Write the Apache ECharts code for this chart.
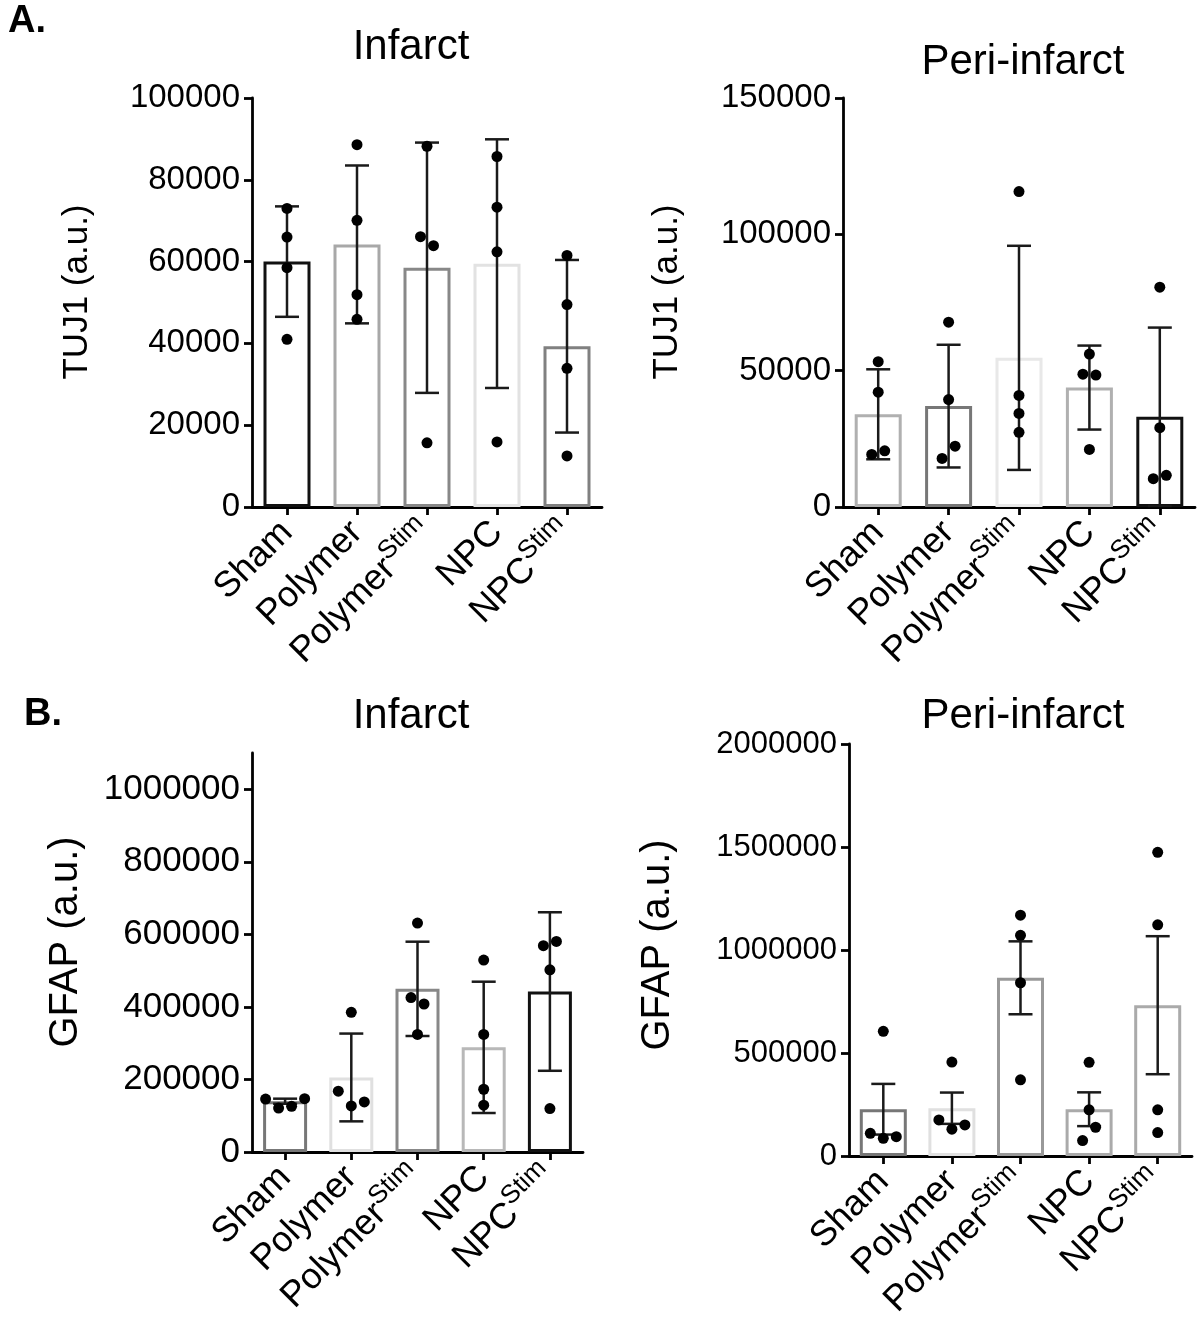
<!DOCTYPE html>
<html>
<head>
<meta charset="utf-8">
<script src="https://cdn.jsdelivr.net/npm/echarts@6/dist/echarts.min.js"></script>
<style>
  html, body { margin: 0; background: #fff; }
  #main { width: 1199px; height: 1332px; }
</style>
</head>
<body>
<div id="main"></div>
<script>
var FONT = '"Liberation Sans", Arial, sans-serif';
var groups = ['Sham', 'Polymer', 'PolymerStim', 'NPC', 'NPCStim'];

// A. TUJ1, infarct
var tujInfMean = [60000, 64200, 58500, 59500, 39300];
var tujInfErr = [13500, 19300, 30600, 30400, 21100];
var tujInfPts = [
  [73000, 66000, 58500, 41000],
  [88600, 70100, 51900, 45900],
  [88200, 66100, 63900, 15700],
  [85700, 73300, 62400, 15900],
  [61500, 49500, 33900, 12500]
];
var tujInfTicks = [0, 20000, 40000, 60000, 80000, 100000];

// A. TUJ1, peri-infarct
var tujPeriMean = [34000, 37000, 54700, 43800, 33100];
var tujPeriErr = [16500, 22500, 41100, 15400, 32700];
var tujPeriPts = [
  [53300, 42100, 19300, 20600],
  [67800, 39400, 17800, 22300],
  [115700, 40900, 34300, 27400],
  [56100, 48700, 48400, 21100],
  [80600, 29100, 10400, 11600]
];
var tujPeriTicks = [0, 50000, 100000, 150000];

// B. GFAP, infarct
var gfapInfMean = [140000, 205500, 449800, 288500, 442400];
var gfapInfErr = [7000, 121000, 130000, 181000, 218500];
var gfapInfPts = [
  [146000, 121000, 126000, 147000],
  [385000, 167700, 127000, 138000],
  [631000, 425800, 408000, 324000],
  [529000, 324000, 173000, 129000],
  [502300, 568700, 580600, 119800]
];
var gfapInfTicks = [0, 200000, 400000, 600000, 800000, 1000000];

// B. GFAP, peri-infarct
var gfapPeriMean = [227000, 232000, 865000, 227000, 732000];
var gfapPeriErr = [123000, 76000, 177000, 82000, 335000];
var gfapPeriPts = [
  [605500, 110000, 86000, 94000],
  [456000, 175000, 130000, 151000],
  [1168800, 1071000, 841000, 370000],
  [454500, 224000, 74700, 139600],
  [1474000, 1122000, 224000, 113600]
];
var gfapPeriTicks = [0, 500000, 1000000, 1500000, 2000000];

var panels = [
  { mean: tujInfMean, err: tujInfErr, pts: tujInfPts, ticks: tujInfTicks, max: 100000,
    grid: { left: 252, top: 98, width: 350, height: 409 }, barWidth: 47, tickFont: 33,
    edge: ['#111', '#a8a8a8', '#888', '#e2e2e2', '#808080'] },
  { mean: tujPeriMean, err: tujPeriErr, pts: tujPeriPts, ticks: tujPeriTicks, max: 150000,
    grid: { left: 843, top: 98, width: 352, height: 409 }, barWidth: 47, tickFont: 33,
    edge: ['#b0b0b0', '#777', '#e8e8e8', '#b0b0b0', '#111'] },
  { mean: gfapInfMean, err: gfapInfErr, pts: gfapInfPts, ticks: gfapInfTicks, max: 1100000,
    grid: { left: 252, top: 753, width: 331, height: 399 }, barWidth: 44, tickFont: 35,
    edge: ['#777', '#e0e0e0', '#888', '#b8b8b8', '#111'] },
  { mean: gfapPeriMean, err: gfapPeriErr, pts: gfapPeriPts, ticks: gfapPeriTicks, max: 2000000,
    grid: { left: 849, top: 744, width: 343, height: 412 }, barWidth: 47, tickFont: 31,
    edge: ['#777', '#e0e0e0', '#999', '#aaa', '#aaa'] }
];

function errItem(params, api) {
  var c = api.value(0), m = api.value(1), e = api.value(2);
  var top = api.coord([c, m + e]);
  var bot = api.coord([c, Math.max(m - e, 0)]);
  var hw = 12;
  var st = { stroke: '#1a1a1a', lineWidth: 2.5 };
  return {
    type: 'group',
    children: [
      { type: 'line', shape: { x1: top[0], y1: top[1], x2: bot[0], y2: bot[1] }, style: st },
      { type: 'line', shape: { x1: top[0] - hw, y1: top[1], x2: top[0] + hw, y2: top[1] }, style: st },
      { type: 'line', shape: { x1: bot[0] - hw, y1: bot[1], x2: bot[0] + hw, y2: bot[1] }, style: st }
    ]
  };
}

// dots that would overlap get spread sideways, in the order they are listed
function dotRenderer(pts) {
  return function (params, api) {
    var c = api.value(0), k = api.value(2);
    var ys = pts[c].map(function (v) { return api.coord([c, v])[1]; });
    var parent = ys.map(function (_, i) { return i; });
    function find(i) { while (parent[i] !== i) i = parent[i]; return i; }
    for (var i = 0; i < ys.length; i++) {
      for (var j = i + 1; j < ys.length; j++) {
        if (Math.abs(ys[i] - ys[j]) < 14) parent[find(j)] = find(i);
      }
    }
    var root = find(k), members = [];
    for (i = 0; i < ys.length; i++) if (find(i) === root) members.push(i);
    var dx = (members.indexOf(k) - (members.length - 1) / 2) * 13;
    var p = api.coord([c, api.value(1)]);
    return { type: 'circle', shape: { cx: p[0] + dx, cy: p[1], r: 5.5 }, style: { fill: '#000' } };
  };
}

var axisLine = { show: true, lineStyle: { color: '#000', width: 2.8 } };
var axisTick = { show: true, length: 8, lineStyle: { color: '#000', width: 2.8 } };

var option = {
  animation: false,
  backgroundColor: '#fff',
  grid: [], xAxis: [], yAxis: [], series: [],
  graphic: []
};

panels.forEach(function (p, gi) {
  option.grid.push(p.grid);
  option.xAxis.push({
    gridIndex: gi, type: 'category', data: groups,
    axisLine: axisLine,
    axisTick: { show: true, alignWithLabel: true, length: 8, lineStyle: { color: '#000', width: 2.8 } },
    axisLabel: {
      rotate: 45, interval: 0, margin: 20, color: '#000', fontSize: 36, fontFamily: FONT,
      formatter: function (v) { return v.replace(/Stim$/, '{sup|Stim}'); },
      rich: { sup: { fontSize: 26, fontFamily: FONT, color: '#000', padding: [0, 0, 22, 0] } }
    }
  });
  option.yAxis.push({
    gridIndex: gi, type: 'value', min: 0, max: p.max, interval: p.ticks[1],
    axisLine: axisLine,
    axisTick: Object.assign({ customValues: p.ticks }, axisTick),
    splitLine: { show: false },
    axisLabel: {
      customValues: p.ticks, color: '#000', fontSize: p.tickFont, fontFamily: FONT, margin: 12,
      formatter: function (v) { return String(v); }
    }
  });
  option.series.push({
    type: 'bar', xAxisIndex: gi, yAxisIndex: gi, barWidth: p.barWidth,
    data: p.mean.map(function (v, i) {
      return { value: v, itemStyle: { color: '#fff', borderColor: p.edge[i], borderWidth: 3 } };
    }),
    z: 2
  });
  option.series.push({
    type: 'custom', xAxisIndex: gi, yAxisIndex: gi, renderItem: errItem,
    data: p.mean.map(function (v, i) { return [i, v, p.err[i]]; }),
    z: 3
  });
  var dots = [];
  p.pts.forEach(function (arr, c) { arr.forEach(function (v, k) { dots.push([c, v, k]); }); });
  option.series.push({
    type: 'custom', xAxisIndex: gi, yAxisIndex: gi, renderItem: dotRenderer(p.pts),
    data: dots, z: 4
  });
});

function txt(s, x, y, size, opts) {
  var o = {
    type: 'text', x: x, y: y,
    style: { text: s, fill: '#000', font: (opts && opts.bold ? 'bold ' : '') + size + 'px ' + FONT,
             textAlign: (opts && opts.align) || 'center', textVerticalAlign: 'middle' }
  };
  if (opts && opts.rot) o.rotation = opts.rot;
  return o;
}

option.graphic = [
  txt('A.', 8, 22, 38, { bold: true, align: 'left' }),
  txt('B.', 24, 715, 38, { bold: true, align: 'left' }),
  txt('Infarct', 411, 47, 42),
  txt('Peri-infarct', 1023, 62, 42),
  txt('Infarct', 411, 716, 42),
  txt('Peri-infarct', 1023, 716, 42),
  txt('TUJ1 (a.u.)', 77, 292, 35, { rot: Math.PI / 2 }),
  txt('TUJ1 (a.u.)', 667, 292, 35, { rot: Math.PI / 2 }),
  txt('GFAP (a.u.)', 66, 942, 40, { rot: Math.PI / 2 }),
  txt('GFAP (a.u.)', 658, 945, 40, { rot: Math.PI / 2 })
];

var chart = echarts.init(document.getElementById('main'));
chart.setOption(option);
</script>
</body>
</html>
